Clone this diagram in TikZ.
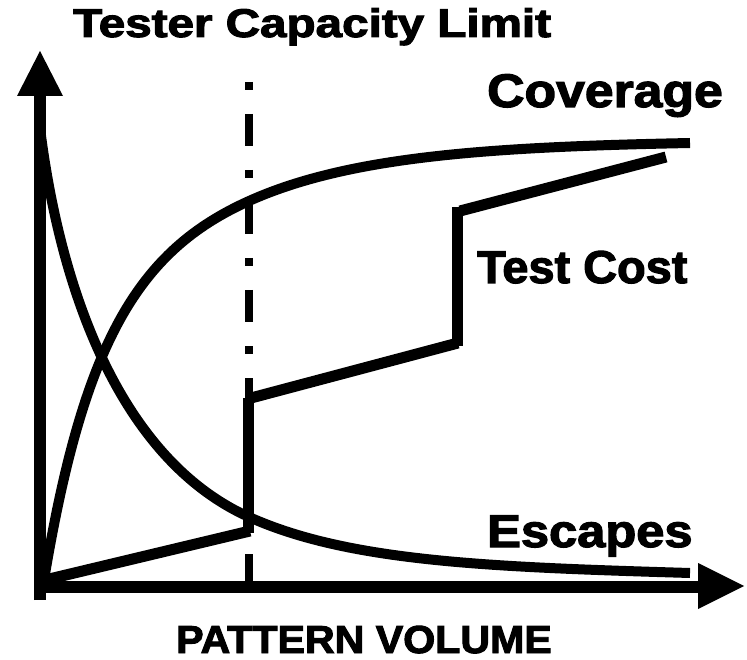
\documentclass[tikz,border=0pt]{standalone}
\usepackage{fontspec}
\setmainfont{Liberation Sans}[BoldFeatures={FakeBold=2.5}]
\begin{document}
\begin{tikzpicture}[x=1pt,y=-1pt,
  curve/.style={line width=10pt},
  costline/.style={line width=11pt,line cap=butt},
  axisline/.style={line width=12pt,line cap=butt},
  limitline/.style={line width=8pt,dash pattern=on 8pt off 24pt on 32pt off 24pt},
  lbl/.style={anchor=base west,inner sep=0pt,font=\bfseries}]
\useasboundingbox (0,0) rectangle (747,660);

% axes
\coordinate (ytop) at (40,96);
\coordinate (ybot) at (40,600);
\coordinate (xleft) at (46,587);
\coordinate (xright) at (698,587);
\draw[axisline] (ybot) -- (ytop);
\fill (40,51) -- (63,96) -- (17,96) -- cycle;
\draw[axisline] (xleft) -- (xright);
\fill (744,586) -- (698,609) -- (698,563) -- cycle;

% tester capacity limit
\coordinate (limtop) at (249,82);
\coordinate (limbot) at (249,581);
\draw[limitline] (limtop) -- (limbot);

% coverage: rises quickly, then levels off
\coordinate (cov0) at (44,580);
\coordinate (cov1) at (249,201);
\coordinate (cov2) at (690,143);
\draw[curve] (cov0) .. controls (84,340) and (139,250.5) .. (cov1)
                    .. controls (349,156) and (490,147) .. (cov2);

% escapes: falls quickly, then levels off
\coordinate (esc0) at (40,128);
\coordinate (esc1) at (249,517);
\coordinate (esc2) at (690,573);
\draw[curve] (esc0) .. controls (60,288) and (119,458.5) .. (esc1)
                    .. controls (349,562) and (490,567) .. (esc2);

% test cost
\coordinate (c0) at (45,580);
\coordinate (c1) at (250,531);
\coordinate (c2) at (248,533);
\coordinate (c3) at (248,398);
\coordinate (c4) at (251,398);
\coordinate (c5) at (458,343);
\coordinate (c6) at (457,346);
\coordinate (c7) at (457,207);
\coordinate (c8) at (460,211);
\coordinate (c9) at (666,157);
\draw[costline] (c0) -- (c1);
\draw[costline] (c2) -- (c3);
\draw[costline] (c4) -- (c5);
\draw[costline] (c6) -- (c7);
\draw[costline] (c8) -- (c9);

% labels
\node[lbl] (title) at (73,37) {\fontsize{40}{40}\selectfont\scalebox{1.19}[1]{Tester Capacity Limit}};
\node[lbl] (cov) at (487,107) {\fontsize{47}{47}\selectfont\scalebox{1.1}[1]{Coverage}};
\node[lbl] (cost) at (477,283) {\fontsize{46}{46}\selectfont\scalebox{1.02}[1]{Test Cost}};
\node[lbl] (esc) at (487,547) {\fontsize{46}{46}\selectfont\scalebox{1.1}[1]{Escapes}};
\node[lbl] (xlabel) at (176,653) {\fontsize{39}{39}\selectfont\scalebox{1.055}[1]{PATTERN VOLUME}};
\end{tikzpicture}
\end{document}
